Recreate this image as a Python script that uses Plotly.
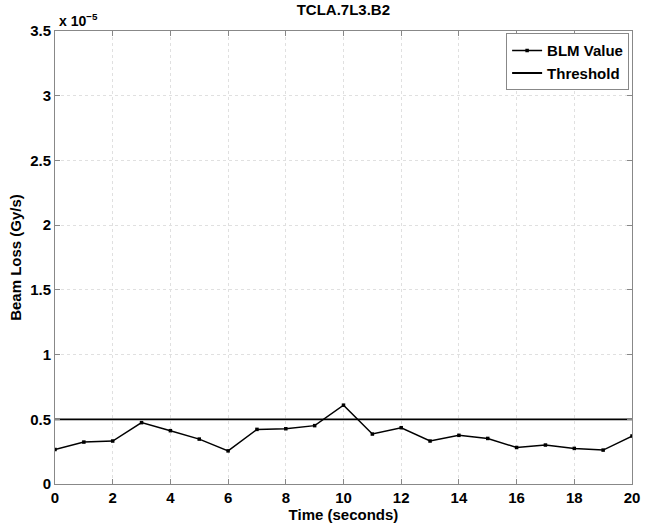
import plotly.graph_objects as go

time_s = list(range(21))
blm_value_e5 = [0.267, 0.324, 0.332, 0.474, 0.412, 0.347, 0.256, 0.422, 0.427, 0.451,
                0.609, 0.386, 0.435, 0.332, 0.376, 0.352, 0.282, 0.301, 0.275, 0.262, 0.370]
threshold_e5 = [0.5] * 21
x_ticks = list(range(0, 21, 2))
y_ticks = [0, 0.5, 1, 1.5, 2, 2.5, 3, 3.5]
y_tick_labels = ["0", "0.5", "1", "1.5", "2", "2.5", "3", "3.5"]

FONT = "Liberation Sans"

fig = go.Figure()
fig.add_trace(go.Scatter(
    x=time_s, y=blm_value_e5, mode="lines+markers", name="<b>BLM Value</b>",
    line=dict(color="black", width=1.5),
    marker=dict(symbol="square", size=3.5, color="black"),
))
fig.add_trace(go.Scatter(
    x=time_s, y=threshold_e5, mode="lines", name="<b>Threshold</b>",
    line=dict(color="black", width=1.8),
))

axis_common = dict(
    showline=True, linecolor="#888888", linewidth=1, mirror="allticks",
    ticks="inside", ticklen=5, tickcolor="#888888",
    showgrid=True, gridcolor="#e0e0e0", griddash="dot", gridwidth=1,
    zeroline=False,
    tickfont=dict(family=FONT, size=15, color="black", weight="bold"),
)

fig.update_layout(
    width=654, height=529,
    margin=dict(l=55, r=22, t=31, b=37),
    paper_bgcolor="white", plot_bgcolor="white",
    title=dict(text="<b>TCLA.7L3.B2</b>", x=0.525, xanchor="center", xref="container",
               y=1, yref="container", yanchor="top", pad=dict(t=4),
               font=dict(family=FONT, size=15, color="black")),
    xaxis=dict(range=[0, 20], tickvals=x_ticks, **axis_common,
               title=dict(text="<b>Time (seconds)</b>", standoff=0,
                          font=dict(family=FONT, size=15, color="black"))),
    yaxis=dict(range=[0, 3.5], tickvals=y_ticks, ticktext=y_tick_labels, **axis_common,
               title=dict(text="<b>Beam Loss (Gy/s)</b>", standoff=4,
                          font=dict(family=FONT, size=15, color="black"))),
    legend=dict(x=0.995, y=0.995, xanchor="right", yanchor="top",
                bgcolor="white", bordercolor="#888888", borderwidth=1,
                font=dict(family=FONT, size=15, color="black"),
                itemwidth=30, tracegroupgap=0),
    showlegend=True,
    annotations=[dict(text="<b>x 10<sup>\u22125</sup></b>", xref="paper", yref="paper",
                      x=0.003, y=1.0, xanchor="left", yanchor="bottom", showarrow=False,
                      font=dict(family=FONT, size=14, color="black"))],
)

fig.write_html("out.html")
